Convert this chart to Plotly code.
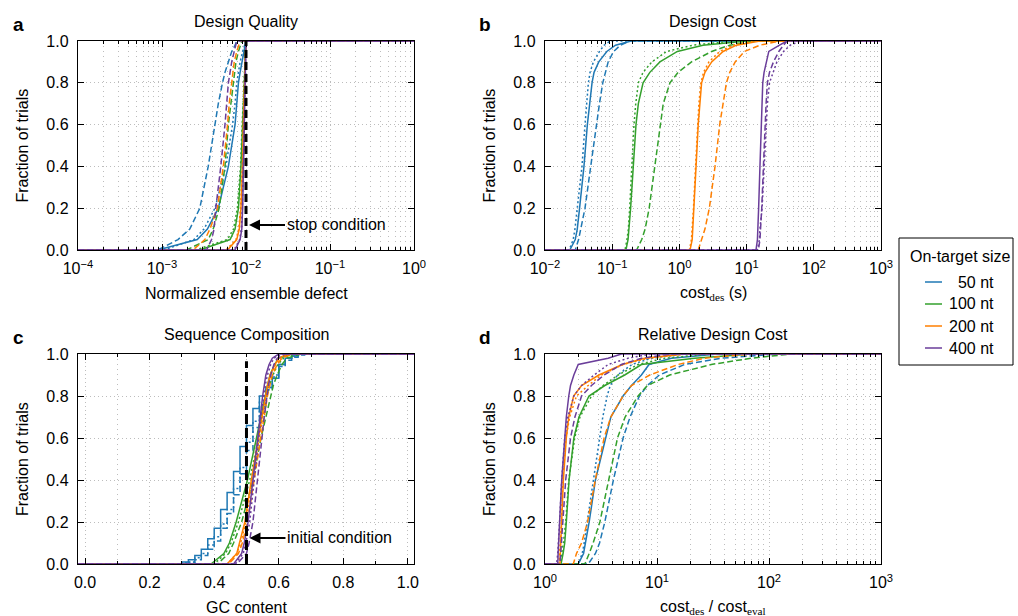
import numpy as np
import plotly.graph_objects as go

# ---------------- data ----------------
FRAC = [0, 0.05, 0.1, 0.2, 0.4, 0.6, 0.7, 0.8, 0.85, 0.9, 0.95, 0.98, 1.0]
SIZES = ["\u200750 nt", "100 nt", "200 nt", "400 nt"]
COLORS = ["#1f78b4", "#33a02c", "#ff7f00", "#6a3d9a"]
VARIANT_DASH = ["solid", "dot", "dash"]

STOP_DEFECT = 0.01
INITIAL_GC = 0.5

LOG_TICK_TEXT_A = ["10<sup>\u22124</sup>", "10<sup>\u22123</sup>", "10<sup>\u22122</sup>", "10<sup>\u22121</sup>", "10<sup>0</sup>"]
LOG_TICK_VALS_A = [1e-4, 1e-3, 1e-2, 1e-1, 1.0]
LOG_TICK_TEXT_B = ["10<sup>\u22122</sup>", "10<sup>\u22121</sup>", "10<sup>0</sup>", "10<sup>1</sup>", "10<sup>2</sup>", "10<sup>3</sup>"]
LOG_TICK_VALS_B = [1e-2, 1e-1, 1.0, 1e1, 1e2, 1e3]
LOG_TICK_TEXT_D = ["10<sup>0</sup>", "10<sup>1</sup>", "10<sup>2</sup>", "10<sup>3</sup>"]
LOG_TICK_VALS_D = [1.0, 1e1, 1e2, 1e3]

# Panel a: normalized ensemble defect at each fraction level
A_50_SOLID = [8.91e-4, 2.63e-3, 3.47e-3, 4.68e-3, 6.17e-3, 7.41e-3, 7.76e-3, 8.13e-3, 8.51e-3, 8.91e-3, 9.33e-3, 9.77e-3, 1.0e-2]
A_50_DOT = [1.05e-3, 2.40e-3, 3.16e-3, 4.27e-3, 5.75e-3, 6.92e-3, 7.41e-3, 7.76e-3, 8.13e-3, 8.51e-3, 9.12e-3, 9.55e-3, 1.0e-2]
A_50_DASH = [8.91e-4, 1.55e-3, 2.14e-3, 2.82e-3, 3.55e-3, 4.27e-3, 4.68e-3, 5.25e-3, 5.62e-3, 6.17e-3, 6.76e-3, 7.41e-3, 7.76e-3]
A_100_SOLID = [2.82e-3, 6.46e-3, 7.41e-3, 8.13e-3, 8.71e-3, 9.12e-3, 9.33e-3, 9.55e-3, 9.66e-3, 9.77e-3, 9.89e-3, 1.0e-2, 1.0e-2]
A_100_DOT = [2.5e-3, 6.0e-3, 7.1e-3, 7.9e-3, 8.6e-3, 9.0e-3, 9.2e-3, 9.45e-3, 9.6e-3, 9.7e-3, 9.85e-3, 1.0e-2, 1.0e-2]
A_100_DASH = [1.95e-3, 3.55e-3, 4.07e-3, 4.79e-3, 5.62e-3, 6.17e-3, 6.61e-3, 7.08e-3, 7.41e-3, 7.59e-3, 8.13e-3, 8.51e-3, 8.91e-3]
A_200_SOLID = [6.03e-3, 7.76e-3, 8.32e-3, 8.71e-3, 9.12e-3, 9.33e-3, 9.44e-3, 9.55e-3, 9.66e-3, 9.77e-3, 9.89e-3, 1.0e-2, 1.0e-2]
A_200_DOT = [5.8e-3, 7.6e-3, 8.2e-3, 8.6e-3, 9.05e-3, 9.3e-3, 9.4e-3, 9.5e-3, 9.6e-3, 9.75e-3, 9.9e-3, 1.0e-2, 1.0e-2]
A_200_DASH = [2.34e-3, 3.24e-3, 3.72e-3, 4.57e-3, 5.37e-3, 6.03e-3, 6.31e-3, 6.76e-3, 7.00e-3, 7.24e-3, 7.76e-3, 8.13e-3, 8.51e-3]
A_400_SOLID = [7.41e-3, 8.51e-3, 8.91e-3, 9.12e-3, 9.33e-3, 9.55e-3, 9.59e-3, 9.66e-3, 9.72e-3, 9.77e-3, 9.89e-3, 1.0e-2, 1.0e-2]
A_400_DOT = [7.2e-3, 8.4e-3, 8.8e-3, 9.05e-3, 9.3e-3, 9.5e-3, 9.55e-3, 9.62e-3, 9.7e-3, 9.76e-3, 9.88e-3, 1.0e-2, 1.0e-2]
A_400_DASH = [3.39e-3, 3.89e-3, 4.17e-3, 4.37e-3, 5.01e-3, 5.62e-3, 5.89e-3, 6.17e-3, 6.46e-3, 6.76e-3, 7.24e-3, 7.59e-3, 7.76e-3]

# Panel b: design cost (s)
B_50_SOLID = [0.0234, 0.0282, 0.0302, 0.0327, 0.0380, 0.0427, 0.0457, 0.0501, 0.0537, 0.0631, 0.0832, 0.112, 0.191]
B_50_DOT = [0.0229, 0.0263, 0.0279, 0.0302, 0.0355, 0.0394, 0.0417, 0.0442, 0.0468, 0.0525, 0.0646, 0.0759, 0.0933]
B_50_DASH = [0.0282, 0.0316, 0.0339, 0.0394, 0.0479, 0.0575, 0.0646, 0.0724, 0.0794, 0.0871, 0.105, 0.132, 0.182]
B_100_SOLID = [0.160, 0.172, 0.178, 0.188, 0.206, 0.226, 0.245, 0.288, 0.363, 0.513, 0.933, 2.24, 10.0]
B_100_DOT = [0.155, 0.166, 0.174, 0.182, 0.195, 0.211, 0.224, 0.245, 0.288, 0.389, 0.646, 1.585, 6.31]
B_100_DASH = [0.231, 0.275, 0.309, 0.355, 0.434, 0.525, 0.575, 0.724, 0.955, 1.514, 3.02, 5.62, 12.6]
B_200_SOLID = [1.44, 1.55, 1.585, 1.65, 1.77, 1.905, 1.995, 2.14, 2.40, 3.02, 4.47, 7.08, 15.8]
B_200_DOT = [1.41, 1.51, 1.55, 1.62, 1.74, 1.86, 1.95, 2.09, 2.29, 2.75, 3.98, 6.31, 12.6]
B_200_DASH = [1.905, 2.14, 2.40, 2.79, 3.39, 3.98, 4.47, 5.01, 5.62, 6.76, 9.33, 15.8, 31.6]
B_400_SOLID = [13.8, 14.5, 14.8, 15.1, 15.8, 16.4, 16.8, 17.4, 18.2, 19.5, 21.4, 30.9, 39.8]
B_400_DOT = [14.5, 15.5, 15.8, 17.0, 18.2, 19.5, 20.4, 21.9, 25.1, 28.2, 35.5, 44.7, 63.1]
B_400_DASH = [15.0, 15.8, 16.2, 16.8, 17.8, 18.6, 19.5, 20.4, 21.9, 25.1, 30.2, 35.5, 39.8]

# Panel c: GC content. 50 nt curves are step functions on a 0.02 grid
C_STEP_GC = [0.28, 0.30, 0.32, 0.34, 0.36, 0.38, 0.40, 0.42, 0.44, 0.46, 0.48,
             0.50, 0.52, 0.54, 0.56, 0.58, 0.60, 0.62, 0.64, 0.66, 0.68]
C_50_SOLID = [0, 0.01, 0.02, 0.04, 0.07, 0.12, 0.17, 0.26, 0.34, 0.44, 0.56,
              0.66, 0.74, 0.80, 0.84, 0.885, 0.95, 0.98, 0.99, 1.0, 1.0]
C_50_DOT = [0, 0.005, 0.01, 0.03, 0.05, 0.09, 0.13, 0.19, 0.26, 0.36, 0.46,
            0.58, 0.68, 0.77, 0.84, 0.90, 0.95, 0.98, 0.99, 1.0, 1.0]
C_50_DASH = [0, 0.003, 0.008, 0.02, 0.04, 0.07, 0.11, 0.17, 0.24, 0.33, 0.43,
             0.54, 0.65, 0.75, 0.83, 0.89, 0.94, 0.97, 0.985, 0.995, 1.0]
C_100_SOLID = [0.39, 0.43, 0.447, 0.468, 0.503, 0.531, 0.544, 0.557, 0.565, 0.573, 0.587, 0.60, 0.64]
C_100_DOT = [0.40, 0.435, 0.452, 0.475, 0.51, 0.537, 0.55, 0.563, 0.572, 0.582, 0.597, 0.615, 0.66]
C_100_DASH = [0.41, 0.445, 0.46, 0.485, 0.52, 0.545, 0.56, 0.575, 0.583, 0.595, 0.61, 0.625, 0.67]
C_200_SOLID = [0.44, 0.47, 0.479, 0.495, 0.515, 0.536, 0.547, 0.559, 0.565, 0.573, 0.588, 0.60, 0.625]
C_200_DOT = [0.44, 0.47, 0.482, 0.498, 0.518, 0.538, 0.549, 0.56, 0.567, 0.576, 0.59, 0.605, 0.63]
C_200_DASH = [0.445, 0.475, 0.487, 0.503, 0.523, 0.543, 0.553, 0.565, 0.572, 0.58, 0.595, 0.61, 0.64]
C_400_SOLID = [0.46, 0.485, 0.493, 0.505, 0.52, 0.533, 0.541, 0.55, 0.555, 0.56, 0.57, 0.58, 0.60]
C_400_DOT = [0.465, 0.49, 0.498, 0.51, 0.525, 0.538, 0.545, 0.553, 0.558, 0.565, 0.575, 0.585, 0.61]
C_400_DASH = [0.47, 0.50, 0.508, 0.52, 0.535, 0.548, 0.555, 0.563, 0.568, 0.575, 0.585, 0.595, 0.62]

# Panel d: relative design cost
D_50_SOLID = [1.98, 2.21, 2.30, 2.48, 2.82, 3.49, 3.87, 4.98, 5.92, 7.26, 8.49, 13.4, 34.9]
D_50_DOT = [1.98, 2.15, 2.24, 2.38, 2.71, 3.09, 3.28, 3.59, 3.82, 4.44, 5.98, 8.91, 17.6]
D_50_DASH = [2.43, 2.82, 3.07, 3.42, 4.08, 4.98, 5.75, 6.97, 8.20, 10.5, 17.6, 37.4, 119]
D_100_SOLID = [1.39, 1.45, 1.50, 1.55, 1.64, 1.81, 2.01, 2.47, 3.42, 5.15, 7.26, 21.6, 69.2]
D_100_DOT = [1.36, 1.41, 1.46, 1.53, 1.63, 1.84, 2.05, 2.60, 3.30, 4.50, 6.78, 11.7, 30.5]
D_100_DASH = [2.27, 2.48, 2.69, 3.09, 3.69, 4.44, 5.19, 6.78, 8.20, 13.0, 30.5, 69.2, 157]
D_200_SOLID = [1.36, 1.37, 1.38, 1.40, 1.46, 1.55, 1.63, 1.80, 2.12, 3.03, 4.91, 7.76, 17.6]
D_200_DOT = [1.33, 1.35, 1.37, 1.40, 1.44, 1.54, 1.66, 1.91, 2.43, 3.19, 4.98, 8.32, 17.6]
D_200_DASH = [1.79, 1.91, 2.12, 2.40, 2.81, 3.37, 3.87, 4.98, 5.92, 8.61, 15.4, 26.5, 69.2]
D_400_SOLID = [1.30, 1.31, 1.32, 1.35, 1.41, 1.49, 1.55, 1.63, 1.69, 1.81, 1.98, 3.66, 4.81]
D_400_DOT = [1.27, 1.30, 1.32, 1.35, 1.41, 1.50, 1.60, 1.81, 2.12, 2.75, 3.66, 5.52, 8.91]
D_400_DASH = [1.36, 1.38, 1.40, 1.45, 1.53, 1.69, 1.85, 2.12, 2.60, 3.37, 4.81, 7.26, 13.4]

# ---------------- figure ----------------
W, H = 1018, 616
FONT = "Liberation Sans, Arial, Helvetica, sans-serif"
SERIF = "Liberation Serif"


def pxx(x):
    return x / W


def pyy(y):
    return 1 - y / H


# plot-area rectangles in pixels (left, right, top, bottom)
RECT = {
    "a": (78, 414, 41, 250),
    "b": (545, 881, 41, 250),
    "c": (78, 414, 354, 564),
    "d": (545, 881, 354, 564),
}
AX = {"a": ("x", "y", ""), "b": ("x2", "y2", "2"), "c": ("x3", "y3", "3"), "d": ("x4", "y4", "4")}

XRANGE = {"a": (1e-4, 1.0), "b": (1e-2, 1e3), "c": (-0.022, 1.019), "d": (1.0, 1e3)}

SERIES = {
    "a": [[A_50_SOLID, A_50_DOT, A_50_DASH], [A_100_SOLID, A_100_DOT, A_100_DASH],
          [A_200_SOLID, A_200_DOT, A_200_DASH], [A_400_SOLID, A_400_DOT, A_400_DASH]],
    "b": [[B_50_SOLID, B_50_DOT, B_50_DASH], [B_100_SOLID, B_100_DOT, B_100_DASH],
          [B_200_SOLID, B_200_DOT, B_200_DASH], [B_400_SOLID, B_400_DOT, B_400_DASH]],
    "c": [None, [C_100_SOLID, C_100_DOT, C_100_DASH],
          [C_200_SOLID, C_200_DOT, C_200_DASH], [C_400_SOLID, C_400_DOT, C_400_DASH]],
    "d": [[D_50_SOLID, D_50_DOT, D_50_DASH], [D_100_SOLID, D_100_DOT, D_100_DASH],
          [D_200_SOLID, D_200_DOT, D_200_DASH], [D_400_SOLID, D_400_DOT, D_400_DASH]],
}
C_50_STEPS = [C_50_SOLID, C_50_DOT, C_50_DASH]

fig = go.Figure()

LW = 1.5
DASHMAP = {"solid": "solid", "dot": "2px,2.5px", "dash": "6px,3px"}

for key in ["a", "b", "c", "d"]:
    xa, ya, _ = AX[key]
    xmin, xmax = XRANGE[key]
    for i, group in enumerate(SERIES[key]):
        color = COLORS[i]
        if key == "c" and i == 0:
            for j, lev in enumerate(C_50_STEPS):
                fig.add_trace(go.Scatter(
                    x=[xmin] + C_STEP_GC + [xmax], y=[0] + lev + [1.0],
                    mode="lines", line=dict(color=color, width=LW, dash=DASHMAP[VARIANT_DASH[j]], shape="hv"),
                    xaxis=xa, yaxis=ya, showlegend=False, hoverinfo="skip"))
            continue
        for j, vals in enumerate(group):
            fig.add_trace(go.Scatter(
                x=[xmin] + vals + [xmax], y=[0] + FRAC + [1.0],
                mode="lines", line=dict(color=color, width=LW, dash=DASHMAP[VARIANT_DASH[j]]),
                xaxis=xa, yaxis=ya, showlegend=False, hoverinfo="skip"))

# reference lines
fig.add_trace(go.Scatter(x=[STOP_DEFECT, STOP_DEFECT], y=[0, 1], mode="lines",
                         line=dict(color="black", width=3, dash="8px,4px"),
                         xaxis="x", yaxis="y", showlegend=False, hoverinfo="skip"))
fig.add_trace(go.Scatter(x=[INITIAL_GC, INITIAL_GC], y=[0, 0.965], mode="lines",
                         line=dict(color="black", width=3, dash="10px,4px"),
                         xaxis="x3", yaxis="y3", showlegend=False, hoverinfo="skip"))

tickfont = dict(family=FONT, size=16, color="black")
GRID = "#bdbdbd"


def base_axis():
    return dict(showline=True, linecolor="black", linewidth=1.2, mirror="ticks",
                ticks="inside", ticklen=6, tickwidth=1, tickcolor="black",
                tickfont=tickfont, showgrid=True, gridcolor=GRID, gridwidth=1,
                griddash="1px,3px", zeroline=False, fixedrange=True, automargin=False)


def log_minor(lo, hi):
    vals = []
    for e in range(lo, hi):
        for m in range(2, 10):
            vals.append(m * 10.0 ** e)
    return dict(tickmode="array", tickvals=vals, ticks="inside", ticklen=3, tickcolor="black",
                showgrid=True, gridcolor=GRID, griddash="1px,4px", gridwidth=1)


layout_axes = {}
TICKS = {
    "a": (LOG_TICK_VALS_A, LOG_TICK_TEXT_A, -4, 0),
    "b": (LOG_TICK_VALS_B, LOG_TICK_TEXT_B, -2, 3),
    "d": (LOG_TICK_VALS_D, LOG_TICK_TEXT_D, 0, 3),
}
for key in ["a", "b", "c", "d"]:
    l, r, t, b = RECT[key]
    xa, ya, suf = AX[key]
    xax = base_axis()
    xax.update(domain=[pxx(l), pxx(r)], anchor=ya, ticklabelstandoff=4)
    if key == "c":
        xax.update(type="linear", range=list(XRANGE["c"]), tickmode="linear", tick0=0, dtick=0.2,
                   tickformat=".1f",
                   minor=dict(tickmode="linear", tick0=0, dtick=0.1, ticks="inside", ticklen=3,
                              tickcolor="black", showgrid=True, gridcolor=GRID,
                              griddash="1px,4px", gridwidth=1))
    else:
        tv, tt, lo, hi = TICKS[key]
        xax.update(type="log", range=[lo, hi], tickmode="array", tickvals=tv, ticktext=tt,
                   minor=log_minor(lo, hi))
    yax = base_axis()
    yax.update(domain=[pyy(b), pyy(t)], anchor=xa, range=[0, 1], tickmode="linear", tick0=0,
               dtick=0.2, tickformat=".1f", ticklabelstandoff=5)
    layout_axes["xaxis" + suf] = xax
    layout_axes["yaxis" + suf] = yax

fig.update_layout(**layout_axes)

ann = []
TITLES = {"a": "Design Quality", "b": "Design Cost", "c": "Sequence Composition", "d": "Relative Design Cost"}
XTITLES = {
    "a": "Normalized ensemble defect",
    "b": "cost<sub><span style='font-family:%s'>des</span></sub> (s)" % SERIF,
    "c": "GC content",
    "d": "cost<sub><span style='font-family:%s'>des</span></sub> / cost<sub><span style='font-family:%s'>eval</span></sub>" % (SERIF, SERIF),
}
for key in ["a", "b", "c", "d"]:
    l, r, t, b = RECT[key]
    cx = (l + r) / 2
    ann.append(dict(text=TITLES[key], x=pxx(cx), y=pyy(t - 19), xref="paper", yref="paper",
                    showarrow=False, font=dict(family=FONT, size=16, color="black"),
                    xanchor="center", yanchor="middle"))
    ann.append(dict(text="<b>%s</b>" % key, x=pxx(l - 60), y=pyy(t - 17), xref="paper", yref="paper",
                    showarrow=False, font=dict(family=FONT, size=19, color="black"),
                    xanchor="center", yanchor="middle"))
    ann.append(dict(text=XTITLES[key], x=pxx(cx), y=pyy(b + 43), xref="paper", yref="paper",
                    showarrow=False, font=dict(family=FONT, size=16, color="black"),
                    xanchor="center", yanchor="middle"))
    ann.append(dict(text="Fraction of trials", x=pxx(l - 56), y=pyy((t + b) / 2), xref="paper",
                    yref="paper", showarrow=False, textangle=-90,
                    font=dict(family=FONT, size=16, color="black"),
                    xanchor="center", yanchor="middle"))

# arrows with labels
ann.append(dict(text="stop condition", x=np.log10(STOP_DEFECT), y=0.12, xref="x", yref="y",
                xshift=3, ax=36, ay=0, axref="pixel", ayref="pixel", showarrow=True,
                arrowhead=2, arrowsize=1.1, arrowwidth=2, arrowcolor="black", xanchor="left",
                font=dict(family=FONT, size=16, color="black")))
ann.append(dict(text="initial condition", x=INITIAL_GC, y=0.124, xref="x3", yref="y3",
                xshift=3, ax=36, ay=0, axref="pixel", ayref="pixel", showarrow=True,
                arrowhead=2, arrowsize=1.1, arrowwidth=2, arrowcolor="black", xanchor="left",
                font=dict(family=FONT, size=16, color="black")))

# manual legend
LEG_L, LEG_R, LEG_T, LEG_B = 899, 1013, 238, 365
shapes = [dict(type="rect", xref="paper", yref="paper", x0=pxx(LEG_L), x1=pxx(LEG_R),
               y0=pyy(LEG_B), y1=pyy(LEG_T), line=dict(color="black", width=1), fillcolor="white",
               layer="above")]
ann.append(dict(text="On-target size", x=pxx(960), y=pyy(257), xref="paper", yref="paper",
                showarrow=False, font=dict(family=FONT, size=16, color="black"),
                xanchor="center", yanchor="middle"))
for i, (lab, col) in enumerate(zip(SIZES, COLORS)):
    yy = 282 + 22 * i
    shapes.append(dict(type="line", xref="paper", yref="paper", x0=pxx(925), x1=pxx(942),
                       y0=pyy(yy), y1=pyy(yy), line=dict(color=col, width=1.5), layer="above"))
    ann.append(dict(text=lab, x=pxx(996), y=pyy(yy), xref="paper", yref="paper", showarrow=False,
                    font=dict(family=FONT, size=16, color="black"), xanchor="right", yanchor="middle"))

fig.update_layout(
    template="none",
    width=W, height=H, margin=dict(l=0, r=0, t=0, b=0, pad=0, autoexpand=False),
    paper_bgcolor="white", plot_bgcolor="white",
    annotations=ann, shapes=shapes, showlegend=False,
    font=dict(family=FONT, size=16, color="black"),
)

fig.write_html("out.html", config={"displayModeBar": False, "staticPlot": True},
               post_script="document.body.style.margin='0px';document.body.style.padding='0px';document.body.style.overflow='hidden';")
